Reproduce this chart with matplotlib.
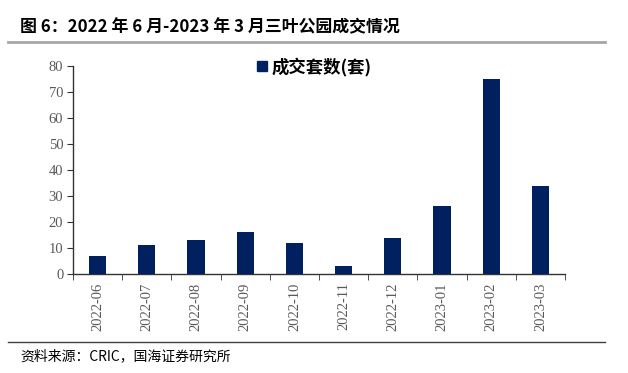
import matplotlib
matplotlib.use("Agg")
import matplotlib.pyplot as plt
from matplotlib.lines import Line2D
import numpy as np

categories = ["2022-06", "2022-07", "2022-08", "2022-09", "2022-10", "2022-11",
              "2022-12", "2023-01", "2023-02", "2023-03"]
values = [7, 11, 13, 16, 12, 3, 14, 26, 75, 34]
yticks = [0, 10, 20, 30, 40, 50, 60, 70, 80]

cjk = ['Noto Sans CJK SC', 'DejaVu Sans']
serif = ['Liberation Serif', 'DejaVu Serif']

fig = plt.figure(figsize=(6.28, 3.73), dpi=100)
ax = fig.add_axes([73/628, 1-274/373, (565-73)/628, (274-66)/373])

x = np.arange(len(categories))
ax.bar(x, values, width=0.35, color='#002060', zorder=3)
ax.set_xlim(-0.5, len(categories)-0.5)
ax.set_ylim(0, 80)
ax.set_yticks(yticks)
ax.set_yticklabels([str(t) for t in yticks], fontfamily=serif, fontsize=10.5, color='#595959')
ax.set_xticks(x)
ax.set_xticklabels(categories, rotation=90, fontfamily=serif, fontsize=10.5, color='#595959')
ax.tick_params(axis='x', length=0, pad=6)
ax.set_xticks(np.arange(-0.5, len(categories)), minor=True)
ax.tick_params(axis='x', which='minor', length=4, direction='out', color='#333333')
ax.tick_params(axis='y', length=4, direction='out', color='#333333', pad=3)
for s in ['top', 'right']:
    ax.spines[s].set_visible(False)
for s in ['left', 'bottom']:
    ax.spines[s].set_color('#333333')
    ax.spines[s].set_linewidth(1.0)

handle = Line2D([], [], marker='s', linestyle='None', markersize=6.5, color='#002060')
leg = ax.legend([handle], ['成交套数(套)'], loc='upper center', bbox_to_anchor=(0.485, 1.075),
                frameon=False, prop={'family': cjk, 'size': 12.5, 'weight': 'bold'},
                handletextpad=0.0, handlelength=1.2, borderaxespad=0)

fig.text(20/628, 1-27/373, '图 6：2022 年 6 月-2023 年 3 月三叶公园成交情况', family=cjk,
         fontsize=12.2, fontweight='bold', va='center', ha='left', color='#000000')
fig.add_artist(Line2D([8/628, 605/628], [1-42/373, 1-42/373], color='#A6A6A6', linewidth=2))
fig.add_artist(Line2D([8/628, 605/628], [1-342/373, 1-342/373], color='#404040', linewidth=1))
fig.text(20/628, 1-356/373, '资料来源：CRIC，国海证券研究所', family=cjk,
         fontsize=10, va='center', ha='left', color='#000000')

fig.savefig('out.png', dpi=100)
